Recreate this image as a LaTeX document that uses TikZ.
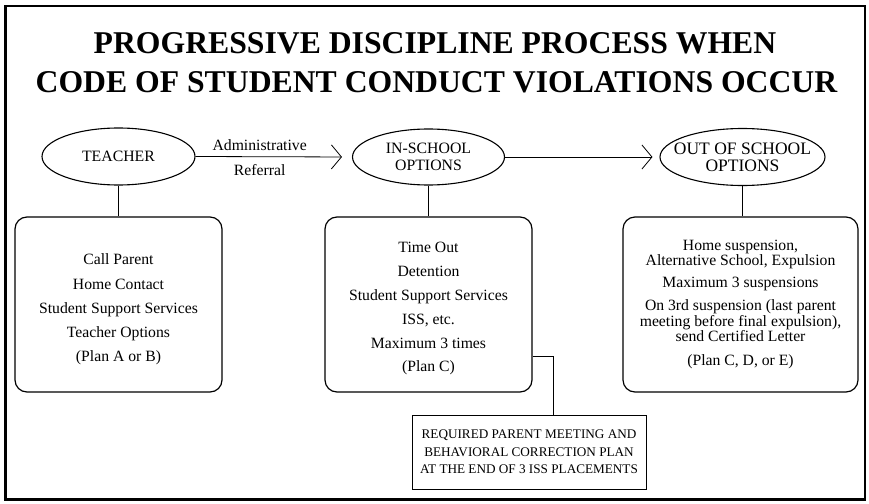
\documentclass[tikz,border=0pt]{standalone}
\usepackage{fontspec}
\setmainfont{Liberation Serif}
\usetikzlibrary{arrows.meta,positioning,calc,shapes.geometric}
\tikzset{
  oval/.style={draw, ellipse, line width=1.1pt, inner xsep=-20pt, inner ysep=0pt,
    minimum width=153pt, minimum height=57pt, align=center, font=\fontsize{15.8}{17}\selectfont},
  box/.style={draw, rounded corners=12pt, line width=1.2pt, minimum width=207pt,
    minimum height=175pt, align=center, font=\fontsize{15.7}{15.5}\selectfont},
  note/.style={draw, line width=0.8pt, minimum width=234pt, minimum height=74pt,
    align=center, font=\fontsize{13.2}{17.5}\selectfont},
  tag/.style={font=\fontsize{15.7}{16}\selectfont},
  arrow/.style={-{Straight Barb[length=10pt,width=24pt]}, line width=0.8pt},
  link/.style={line width=0.8pt},
}

\begin{document}
\begin{tikzpicture}[x=1pt,y=-1pt]
  \useasboundingbox (0,0) rectangle (869,503);
  \draw[line width=2.6pt] (5.5,6) rectangle (865,499.5);

  % title
  \node[anchor=base, font=\bfseries\fontsize{31.7}{39}\selectfont] (title1) at (435,53) {PROGRESSIVE DISCIPLINE PROCESS WHEN};
  \node[anchor=base, font=\bfseries\fontsize{31.7}{39}\selectfont] (title2) at (436.5,92) {CODE OF STUDENT CONDUCT VIOLATIONS OCCUR};

  % the three stages
  \node[oval] (teacher) at (118.5,156.5) {TEACHER};
  \node[oval, minimum width=152pt, minimum height=56pt] (inschool) at (428.5,157) {IN-SCHOOL\\OPTIONS};
  \node[oval, minimum width=165pt, inner xsep=-30pt, font=\fontsize{17.5}{17}\selectfont] (outschool) at (742.5,157) {OUT OF SCHOOL\\OPTIONS};

  \draw[arrow, shorten >=10pt] (teacher.east) -- node[tag, above, pos=0.41, yshift=2pt] (adm) {Administrative}
    node[tag, below, pos=0.41, yshift=-4pt] (ref) {Referral} (inschool.west);
  \draw[arrow, shorten >=7pt] (inschool.east) -- (outschool.west);

  % options under each stage
  \node[box] (tbox) at (118.5,304.5) {\rule{0pt}{21pt}Call Parent\\[8.7pt] Home Contact\\[8.7pt] Student Support Services\\[8.7pt] Teacher Options\\[8.7pt] (Plan A or B)};
  \node[box] (ibox) at (428.5,304.5) {\rule{0pt}{19pt}Time Out\\[8.3pt] Detention\\[8.3pt] Student Support Services\\[8.3pt] ISS, etc.\\[8.3pt] Maximum 3 times\\[8.3pt] (Plan C)};
  \node[box, minimum width=235pt] (obox) at (740.5,304.5) {Home suspension,\\ Alternative School, Expulsion\\[6.5pt] Maximum 3 suspensions\\[7.5pt] On 3rd suspension (last parent\\ meeting before final expulsion),\\ send Certified Letter\\[8.5pt] (Plan C, D, or E)};

  \draw[link] (teacher) -- (tbox);
  \draw[link] (inschool) -- (ibox);
  \draw[link] (outschool.south) -- (outschool.south |- obox.north);

  % ISS follow-up
  \node[note] (meeting) at (529,452) {REQUIRED PARENT MEETING AND\\BEHAVIORAL CORRECTION PLAN\\AT THE END OF 3 ISS PLACEMENTS};
  \draw[link] ([yshift=-51.5pt]ibox.east) -| ([xshift=24pt]meeting.north);
\end{tikzpicture}
\end{document}
